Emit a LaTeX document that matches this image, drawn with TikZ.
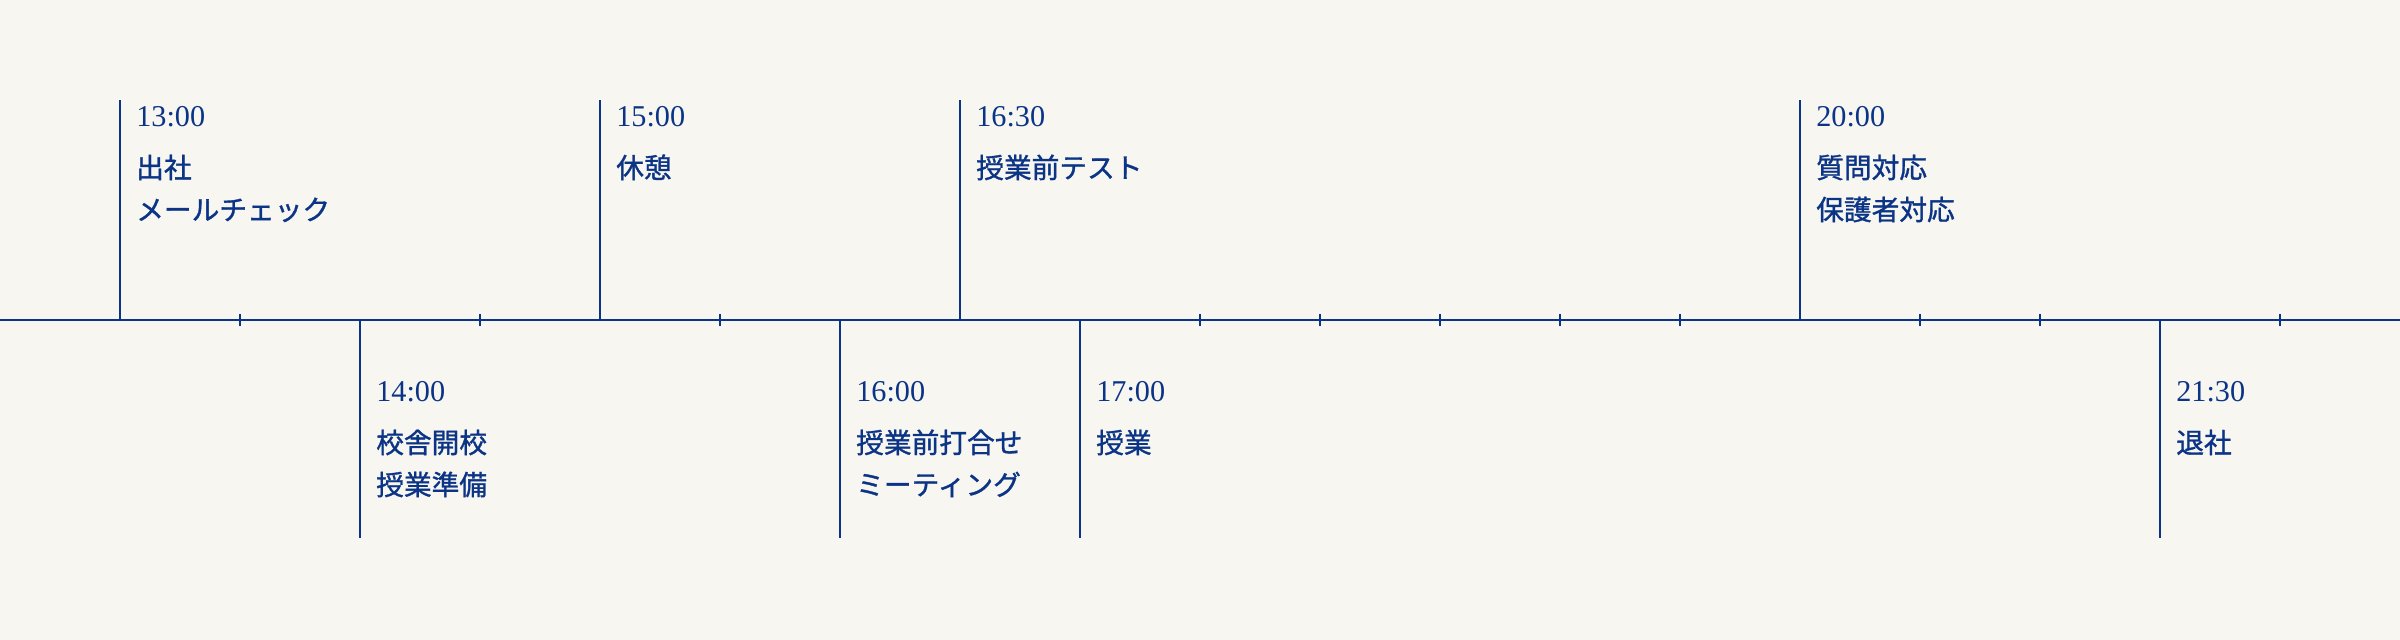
\documentclass[tikz,border=0pt]{standalone}
\usepackage{fontspec}
\setmainfont{Liberation Serif}
\newfontfamily\jpfont[FakeBold=1.2]{Noto Sans CJK JP}
\definecolor{navy}{HTML}{0B3486}
\definecolor{paper}{HTML}{F7F6F0}
\tikzset{
  hour/.style={anchor=base west, inner sep=0pt, text=navy, font=\fontsize{21.5}{26}\selectfont},
  task/.style={anchor=base west, inner sep=0pt, text=navy, align=left, font=\jpfont\fontsize{19.7}{29.9}\selectfont},
  stem/.style={draw=navy, line width=1.4pt},
}
\begin{document}
\begin{tikzpicture}
            \fill[paper] (0,-8) rectangle (60,8);
            \useasboundingbox (0,-8) rectangle (60,8);
            % time axis
            \coordinate (left) at (0,0);
            \coordinate (right) at (60,0);
            \draw[stem] (left) -- (right);
            \foreach \x in {6,12,18,30,33,36,39,42,48,51,57}
                \draw[stem] (\x,-0.15) -- (\x,0.15);
            % above the axis
            \coordinate (a) at (3,0);
            \coordinate (a-top) at (3,5.5);
            \coordinate (c) at (15,0);
            \coordinate (c-top) at (15,5.5);
            \coordinate (e) at (24,0);
            \coordinate (e-top) at (24,5.5);
            \coordinate (g) at (45,0);
            \coordinate (g-top) at (45,5.5);
            \draw[stem] (a) -- (a-top);
            \draw[stem] (c) -- (c-top);
            \draw[stem] (e) -- (e-top);
            \draw[stem] (g) -- (g-top);
            \node[hour] (a-hour) at (3.4,4.825) {13:00};
            \node[task] (a-task) at (3.4,2.5) {出社\\メールチェック};
            \node[hour] (c-hour) at (15.4,4.825) {15:00};
            \node[task] (c-task) at (15.4,3.55) {休憩};
            \node[hour] (e-hour) at (24.4,4.825) {16:30};
            \node[task] (e-task) at (24.4,3.55) {授業前テスト};
            \node[hour] (g-hour) at (45.4,4.825) {20:00};
            \node[task] (g-task) at (45.4,2.5) {質問対応\\保護者対応};
            % below the axis
            \coordinate (b) at (9,0);
            \coordinate (b-end) at (9,-5.45);
            \coordinate (d) at (21,0);
            \coordinate (d-end) at (21,-5.45);
            \coordinate (f) at (27,0);
            \coordinate (f-end) at (27,-5.45);
            \coordinate (h) at (54,0);
            \coordinate (h-end) at (54,-5.45);
            \draw[stem] (b) -- (b-end);
            \draw[stem] (d) -- (d-end);
            \draw[stem] (f) -- (f-end);
            \draw[stem] (h) -- (h-end);
            \node[hour] (b-hour) at (9.4,-2.05) {14:00};
            \node[task] (b-task) at (9.4,-4.375) {校舎開校\\授業準備};
            \node[hour] (d-hour) at (21.4,-2.05) {16:00};
            \node[task] (d-task) at (21.4,-4.375) {授業前打合せ\\ミーティング};
            \node[hour] (f-hour) at (27.4,-2.05) {17:00};
            \node[task] (f-task) at (27.4,-3.325) {授業};
            \node[hour] (h-hour) at (54.4,-2.05) {21:30};
            \node[task] (h-task) at (54.4,-3.325) {退社};
\end{tikzpicture}
\end{document}
